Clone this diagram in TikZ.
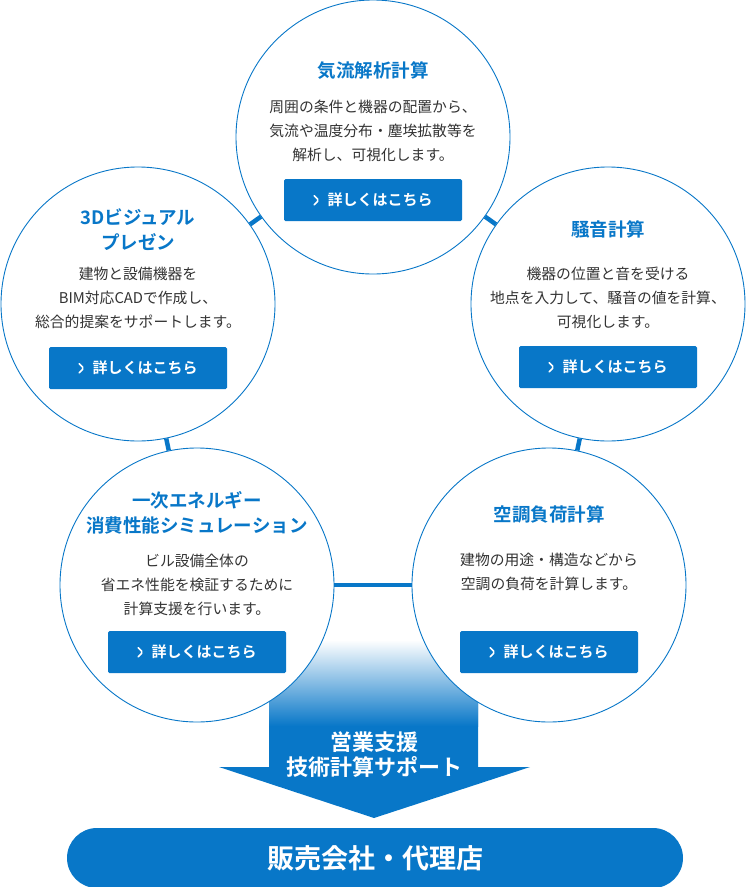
\documentclass[tikz,border=0pt]{standalone}
\usepackage{fontspec}
\setmainfont{Noto Sans CJK JP}
\newfontfamily\cjkb{Noto Sans CJK JP Bold}
\usetikzlibrary{shapes.geometric}
\definecolor{bl}{HTML}{0877C8}
\definecolor{tx}{HTML}{333333}
\newcommand{\chev}{\tikz[baseline=-1pt]\draw[white,line width=1.5pt,line cap=round,line join=miter] (0,9pt)--(4.5pt,4.5pt)--(0,0);}
\begin{document}
\begin{tikzpicture}[x=1pt,y=-1pt,
  circ/.style={circle,draw=bl,line width=0.9pt,fill=white,minimum size=274pt,inner sep=0},
  conn/.style={draw=bl,line width=4.5pt},
  ttl/.style={text=bl,font=\cjkb\fontsize{18.5}{25}\selectfont,align=center},
  body/.style={text=tx,font=\fontsize{14.8}{24}\selectfont,align=center},
  btn/.style={fill=bl,text=white,minimum width=178pt,minimum height=42pt,rounded corners=1.5pt,font=\cjkb\fontsize{15}{16}\selectfont,inner sep=0}]
\useasboundingbox (0,0) rectangle (746,887);
% arrow
\fill[bl] (269,640) -- (478,640) -- (478,767) -- (530,767) -- (374,818) -- (219,767) -- (269,767) -- cycle;
\shade[top color=white,bottom color=bl] (269,640) rectangle (478,726);
\node[text=white,font=\cjkb\fontsize{22}{25}\selectfont,align=center] (arr) at (374,755) {営業支援\\技術計算サポート};
% pill
\node[fill=bl,rounded corners=30pt,minimum width=616pt,minimum height=60pt,text=white,font=\cjkb\fontsize{27}{30}\selectfont] (pill) at (375,858) {販売会社・代理店};
% circles
\node[circ] (ct) at (373,137) {};
\node[circ] (cl) at (138,304) {};
\node[circ] (cr) at (608,304) {};
\node[circ] (cbl) at (197,585) {};
\node[circ] (cbr) at (549,585) {};
\draw[conn] (ct) -- (cl);
\draw[conn] (ct) -- (cr);
\draw[conn] (cl) -- (cbl);
\draw[conn] (cr) -- (cbr);
\draw[conn] (cbl) -- (cbr);
% top
\node[ttl] (t1) at (373,71) {気流解析計算};
\node[body] (b1) at (373,131) {周囲の条件と機器の配置から、\\気流や温度分布・塵埃拡散等を\\解析し、可視化します。};
\node[btn] (k1) at (373,200) {\chev\hspace{8pt}詳しくはこちら};
% left
\node[ttl] (t2) at (138,230) {3Dビジュアル\\プレゼン};
\node[body] (b2) at (138,298) {建物と設備機器を\\BIM対応CADで作成し、\\総合的提案をサポートします。};
\node[btn] (k2) at (138,368) {\chev\hspace{8pt}詳しくはこちら};
% right
\node[ttl] (t3) at (608,229) {騒音計算};
\node[body] (b3) at (608,298) {機器の位置と音を受ける\\地点を入力して、騒音の値を計算、\\可視化します。};
\node[btn] (k3) at (608,367) {\chev\hspace{8pt}詳しくはこちら};
% bottom left
\node[ttl] (t4) at (197,513) {一次エネルギー\\消費性能シミュレーション};
\node[body] (b4) at (197,585) {ビル設備全体の\\省エネ性能を検証するために\\計算支援を行います。};
\node[btn] (k4) at (197,652) {\chev\hspace{8pt}詳しくはこちら};
% bottom right
\node[ttl] (t5) at (549,514) {空調負荷計算};
\node[body] (b5) at (549,572) {建物の用途・構造などから\\空調の負荷を計算します。};
\node[btn] (k5) at (549,652) {\chev\hspace{8pt}詳しくはこちら};
\end{tikzpicture}
\end{document}
